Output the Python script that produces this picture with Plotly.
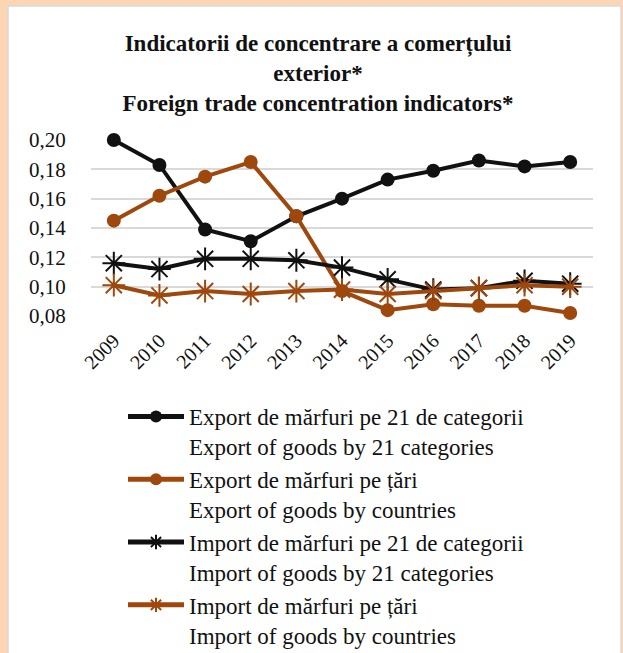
import plotly.graph_objects as go

years = ["2009", "2010", "2011", "2012", "2013", "2014", "2015", "2016", "2017", "2018", "2019"]
export_cat = [0.200, 0.183, 0.139, 0.131, 0.148, 0.160, 0.173, 0.179, 0.186, 0.182, 0.185]
export_cty = [0.145, 0.162, 0.175, 0.185, 0.148, 0.097, 0.084, 0.088, 0.087, 0.087, 0.082]
import_cat = [0.116, 0.112, 0.119, 0.119, 0.118, 0.113, 0.105, 0.098, 0.099, 0.104, 0.102]
import_cty = [0.101, 0.094, 0.097, 0.095, 0.097, 0.098, 0.095, 0.097, 0.099, 0.101, 0.100]

names = [
    "Export de mărfuri pe 21 de categorii<br>Export of goods by 21 categories",
    "Export de mărfuri pe țări<br>Export of goods by countries",
    "Import de mărfuri pe 21 de categorii<br>Import of goods by 21 categories",
    "Import de mărfuri pe țări<br>Import of goods by countries",
]

BLACK = "#111111"
ORANGE = "#9E480E"
FONT = "Liberation Serif"

W, H = 623, 653
L, R, T, B = 91, 30, 140, 337
PW, PH = W - L - R, H - T - B

fig = go.Figure()
series = [(export_cat, BLACK, "circle"), (export_cty, ORANGE, "circle"),
          (import_cat, BLACK, "asterisk-open"), (import_cty, ORANGE, "asterisk-open")]
for i, (vals, col, sym) in enumerate(series):
    if sym == "circle":
        marker = dict(symbol="circle", size=14, color=col)
    else:
        marker = dict(symbol="asterisk-open", size=19, color=col, line=dict(color=col, width=2))
    fig.add_trace(go.Scatter(x=years, y=vals, mode="lines+markers", name=names[i],
                             line=dict(color=col, width=4), marker=marker,
                             legendgroup=f"g{i}", cliponaxis=False))

fig.update_layout(
    width=W, height=H,
    margin=dict(l=L, r=R, t=T, b=B, pad=0, autoexpand=False),
    paper_bgcolor="#FCD5B4",
    plot_bgcolor="white",
    separators=",.",
    font=dict(family=FONT, color="#111111", size=20),
    title=dict(text="<b>Indicatorii de concentrare a comerțului<br>exterior*<br>Foreign trade concentration indicators*</b>",
               x=318 / W, xanchor="center", y=1 - 51 / H, yanchor="top",
               font=dict(family=FONT, size=23, color="#111111")),
    showlegend=True,
    legend=dict(xref="container", yref="container", x=123 / W, y=1 - 395 / H,
                xanchor="left", yanchor="top", bgcolor="rgba(0,0,0,0)",
                font=dict(family=FONT, size=23, color="#111111"),
                tracegroupgap=0, itemwidth=56, valign="top", itemsizing="constant"),
    xaxis=dict(showgrid=False, showline=False, ticks="outside", ticklen=4,
               tickcolor="rgba(0,0,0,0)", tickangle=-45, automargin=False,
               tickfont=dict(family=FONT, size=20), range=[-0.5, 10.5]),
    yaxis=dict(range=[0.08, 0.20], dtick=0.02, tickformat=".2f", showgrid=True,
               gridcolor="#D9D9D9", gridwidth=2, zeroline=False, showline=False,
               ticks="outside", ticklen=20, tickcolor="rgba(0,0,0,0)", automargin=False,
               tickfont=dict(family=FONT, size=21)),
)

# white panel with thin gray border (decorative background)
fig.add_shape(type="rect", xref="paper", yref="paper",
              x0=(8 - L) / PW, x1=(621 - L) / PW,
              y0=(H - B - 660) / PH, y1=(H - B - 6) / PH,
              fillcolor="white", line=dict(color="#D9D9D9", width=1.5), layer="below")

fig.write_html("out.html", config={"displayModeBar": False},
               post_script="document.body.style.margin='0px';")
